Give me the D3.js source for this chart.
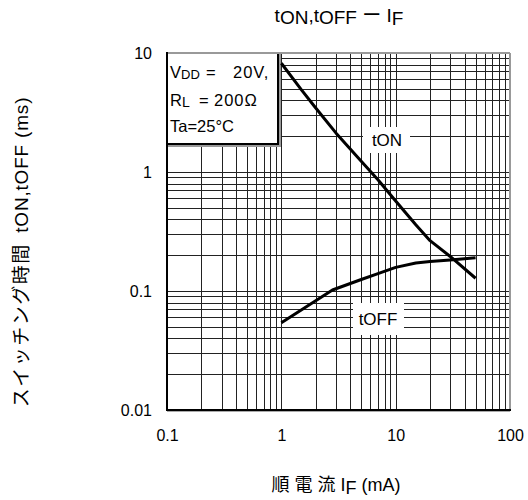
<!DOCTYPE html>
<html><head><meta charset="utf-8">
<script src="https://cdn.jsdelivr.net/npm/d3@7"></script>
<style>
body{margin:0;background:#fff}
svg text{font-family:"Liberation Sans",Arial,"Noto Sans CJK JP",sans-serif;fill:#000}
</style>
</head><body>
<svg id="c" width="528" height="500" xmlns="http://www.w3.org/2000/svg"></svg>
<script>
// ---- data ----
const ifOn  = [1, 1.5, 2, 3, 5, 7, 10, 15, 20, 30, 50];
const tOn   = [8.2, 4.9, 3.45, 2.13, 1.23, 0.86, 0.57, 0.36, 0.265, 0.195, 0.128];
const ifOff = [1, 2.8, 5, 7, 10, 15, 20, 30, 50];
const tOff  = [0.054, 0.102, 0.125, 0.14, 0.158, 0.172, 0.177, 0.182, 0.19];
const xTickVals = [0.1, 1, 10, 100];
const xTickLabels = ["0.1", "1", "10", "100"];
const yTickVals = [0.01, 0.1, 1, 10];
const yTickLabels = ["0.01", "0.1", "1", "10"];

const L = 167, R = 510, T = 53, B = 410;
const svg = d3.select("#c");
const x = d3.scaleLog().domain([0.1, 100]).range([L, R]);
const y = d3.scaleLog().domain([0.01, 10]).range([B, T]);

// grid values (1..9 per decade, inner only)
const gx = [], gy = [];
[0.1, 1, 10].forEach(d => { for (let k = 1; k <= 9; k++) { const v = d * k; if (v > 0.1 + 1e-9) gx.push(v); } });
[0.01, 0.1, 1].forEach(d => { for (let k = 1; k <= 9; k++) { const v = d * k; if (v > 0.01 + 1e-9) gy.push(v); } });

const grid = svg.append("g").attr("shape-rendering", "crispEdges");
grid.append("g").attr("transform", `translate(0,${B})`)
  .call(d3.axisBottom(x).tickValues(gx).tickSize(-(B - T)).tickFormat(""))
  .call(g => g.select(".domain").remove())
  .call(g => g.selectAll("line").attr("stroke", "#222").attr("stroke-width", 1));
grid.append("g").attr("transform", `translate(${L},0)`)
  .call(d3.axisLeft(y).tickValues(gy).tickSize(-(R - L)).tickFormat(""))
  .call(g => g.select(".domain").remove())
  .call(g => g.selectAll("line").attr("stroke", "#222").attr("stroke-width", 1));

// tick labels
svg.append("g").attr("transform", `translate(0,${B})`)
  .call(d3.axisBottom(x).tickValues(xTickVals).tickSize(0).tickPadding(20)
        .tickFormat((d, i) => xTickLabels[i]))
  .call(g => g.select(".domain").remove())
  .call(g => g.selectAll("text").attr("font-size", 16).attr("font-family", "Liberation Sans, Arial, sans-serif"));
svg.append("g").attr("transform", `translate(${L},0)`)
  .call(d3.axisLeft(y).tickValues(yTickVals).tickSize(0).tickPadding(15)
        .tickFormat((d, i) => yTickLabels[i]))
  .call(g => g.select(".domain").remove())
  .call(g => g.selectAll("text").attr("font-size", 16).attr("font-family", "Liberation Sans, Arial, sans-serif"));

// white label boxes
svg.append("rect").attr("x", 363).attr("y", 127).attr("width", 47).attr("height", 26).attr("fill", "#fff");
svg.append("rect").attr("x", 353).attr("y", 303).attr("width", 51).attr("height", 32).attr("fill", "#fff");
svg.append("text").attr("x", 387).attr("y", 146).attr("text-anchor", "middle").attr("font-size", 17).text("tON");
svg.append("text").attr("x", 378).attr("y", 325).attr("text-anchor", "middle").attr("font-size", 17).text("tOFF");

// condition box
svg.append("rect").attr("x", 168).attr("y", 54).attr("width", 112).attr("height", 92)
  .attr("fill", "none").attr("stroke", "#999").attr("stroke-width", 2);
svg.append("rect").attr("x", 167).attr("y", 53).attr("width", 111).attr("height", 91)
  .attr("fill", "#fff").attr("stroke", "#000").attr("stroke-width", 2);
const ann = svg.append("g").attr("font-size", 16.5);
const t1 = ann.append("text").attr("y", 78);
t1.append("tspan").attr("x", 170).text("V");
t1.append("tspan").attr("font-size", 13).attr("dy", 1).text("DD");
t1.append("tspan").attr("x", 206).attr("dy", -1).text("=");
t1.append("tspan").attr("x", 233).attr("letter-spacing", 1).text("20V,");
const t2 = ann.append("text").attr("y", 106);
t2.append("tspan").attr("x", 170).text("R");
t2.append("tspan").attr("font-size", 14).attr("dy", 1).text("L");
t2.append("tspan").attr("x", 199).attr("dy", -1).text("=");
t2.append("tspan").attr("x", 214).attr("letter-spacing", 1).text("200Ω");
ann.append("text").attr("x", 170).attr("y", 132).text("Ta=25°C");

// curves
const line = d3.line().x(d => x(d[0])).y(d => y(d[1]));
svg.append("path").datum(ifOn.map((v, i) => [v, tOn[i]]))
  .attr("d", line).attr("fill", "none").attr("stroke", "#000").attr("stroke-width", 3).attr("stroke-linejoin", "round");
svg.append("path").datum(ifOff.map((v, i) => [v, tOff[i]]))
  .attr("d", line).attr("fill", "none").attr("stroke", "#000").attr("stroke-width", 3).attr("stroke-linejoin", "round");

// frame
svg.append("line").attr("x1", L).attr("x2", R).attr("y1", T).attr("y2", T).attr("stroke", "#999").attr("stroke-width", 2);
svg.append("line").attr("x1", R).attr("x2", R).attr("y1", T).attr("y2", B).attr("stroke", "#999").attr("stroke-width", 2);
svg.append("line").attr("x1", L).attr("x2", R).attr("y1", B + 1.5).attr("y2", B + 1.5).attr("stroke", "#aaa").attr("stroke-width", 1);
svg.append("line").attr("x1", L).attr("x2", R + 1).attr("y1", B).attr("y2", B).attr("stroke", "#000").attr("stroke-width", 2);
svg.append("line").attr("x1", L).attr("x2", L).attr("y1", T - 1).attr("y2", B + 1).attr("stroke", "#000").attr("stroke-width", 2);

// title
const title = svg.append("text").attr("x", 339).attr("y", 22).attr("text-anchor", "middle").attr("font-size", 19)
  .attr("xml:space", "preserve");
title.append("tspan").text("t");
title.append("tspan").attr("dy", 2).text("ON");
title.append("tspan").attr("dy", -2).text(",t");
title.append("tspan").attr("dy", 2).text("OFF");
title.append("tspan").attr("dy", -2).text(" ー I");
title.append("tspan").attr("dy", 3).text("F");

// x axis label
const xl = svg.append("text").attr("x", 336).attr("y", 491).attr("text-anchor", "middle").attr("font-size", 18)
  .attr("xml:space", "preserve");
xl.append("tspan").text("順 電 流 I");
xl.append("tspan").attr("dy", 3).text("F");
xl.append("tspan").attr("dy", -3).text(" (mA)");

// y axis label
const yl = svg.append("text").attr("transform", "translate(28,252) rotate(-90)").attr("text-anchor", "middle")
  .attr("font-size", 19).attr("xml:space", "preserve");
yl.append("tspan").attr("letter-spacing", 1.5).text("スイッチング時間");
yl.append("tspan").text("  ");
yl.append("tspan").attr("letter-spacing", 0.8).text("tON,tOFF (ms)");
</script>
</body></html>
